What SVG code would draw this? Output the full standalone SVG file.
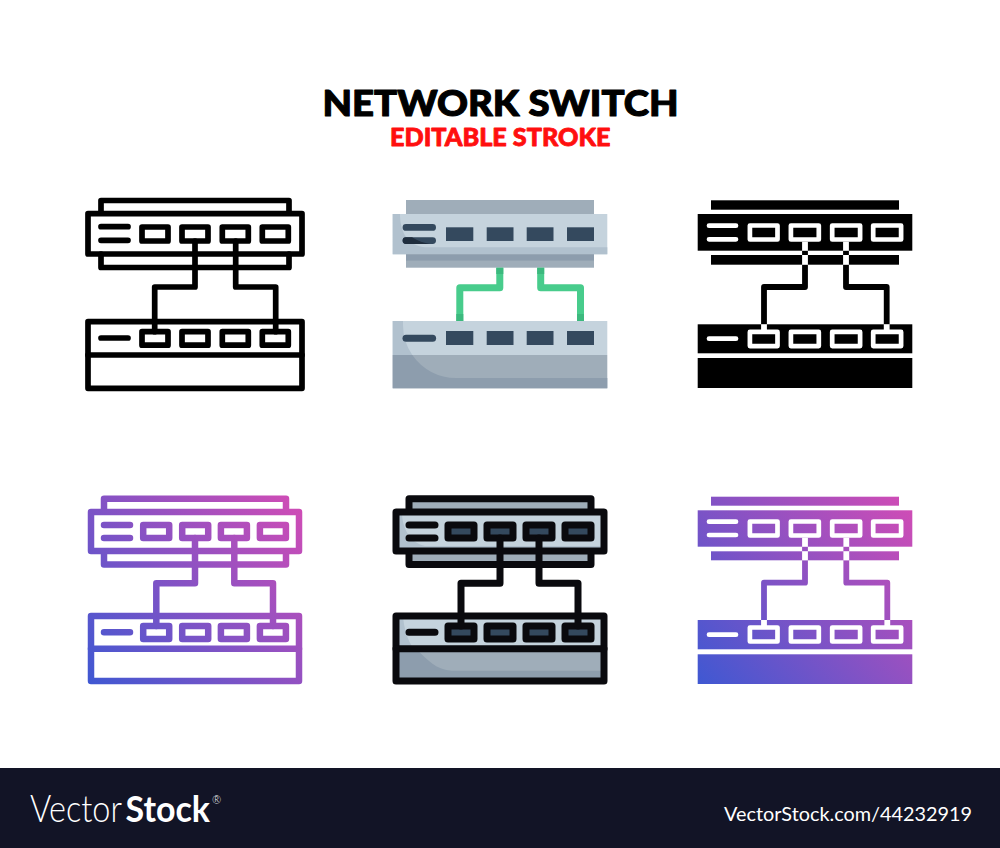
<svg xmlns="http://www.w3.org/2000/svg" width="1000" height="848" viewBox="0 0 1000 848">
<defs>
<linearGradient id="g4" gradientUnits="userSpaceOnUse" x1="88" y1="684" x2="302" y2="496"><stop offset="0" stop-color="#3f58d2"/><stop offset="1" stop-color="#d34cb5"/></linearGradient>
<linearGradient id="g6" gradientUnits="userSpaceOnUse" x1="698" y1="684" x2="912" y2="496"><stop offset="0" stop-color="#3f58d2"/><stop offset="1" stop-color="#d34cb5"/></linearGradient>
</defs>
<style>
.ln{fill:none;stroke-linejoin:round;stroke-linecap:round}
.k{stroke:#000;stroke-width:5.7}
.b{stroke:#0a0a0e;stroke-width:7}
.gr{stroke:url(#g4);stroke-width:6.5}
.w{fill:none;stroke:#fff;stroke-width:4.7;stroke-linejoin:round;stroke-linecap:round}
.dark{fill:#34495e}
.title{font-family:"Lato","Open Sans","Liberation Sans",sans-serif;font-weight:900;text-anchor:start;stroke-linejoin:round}
.foot{font-family:"Lato","Open Sans",sans-serif;fill:#fff}
</style>
<rect width="1000" height="848" fill="#fff"/>
<g id="title">
<text class="title" x="322.500" y="115.500" font-size="36.500" fill="#000" stroke="#000" stroke-width="1.100" textLength="356" lengthAdjust="spacingAndGlyphs">NETWORK SWITCH</text>
<text class="title" x="390" y="146.300" font-size="24.300" fill="#ff0f0f" stroke="#ff0f0f" stroke-width="0.800" textLength="220.500" lengthAdjust="spacingAndGlyphs">EDITABLE STROKE</text>
</g>

<g id="icon-outline" class="ln k">
<path d="M101 211V200.500H289V211M101 254V267.500H289V254"/>
<rect x="88" y="213.700" width="214" height="40.300"/>
<path d="M101 226.700H128M101 240.300H128"/>
<rect x="142" y="227" width="26" height="14"/><rect x="182" y="227" width="26" height="14"/><rect x="222.300" y="227" width="26" height="14"/><rect x="262.300" y="227" width="26" height="14"/>
<rect x="88" y="321.700" width="214" height="66.600"/>
<path d="M88 355H302M101 338H128"/>
<rect x="142" y="331.700" width="26" height="13.500"/><rect x="182" y="331.700" width="26" height="13.500"/><rect x="222.300" y="331.700" width="26" height="13.500"/><rect x="262.300" y="331.700" width="26" height="13.500"/>
</g>
<g id="icon-outline-links" class="ln k">
<path d="M195 241V287H154.700V331.700M235.700 241V287H275.700V331.700"/>
</g>

<g id="icon-flat">
<rect x="406" y="200" width="188" height="14" fill="#9fadb9"/>
<rect x="392.700" y="214" width="214.600" height="40.300" fill="#c5d3dd"/>
<path d="M392.700 214H400C400 235 410 247.300 428 247.300H607.300V254.300H392.700Z" fill="#b1c1ce"/>
<rect x="406" y="254.300" width="188" height="13.400" fill="#9fadb9"/>
<rect x="406" y="254.300" width="188" height="6.300" fill="#8d9dad"/>
<path d="M406 227.400H432.600M406 240.600H432.600" class="ln" stroke="#34495e" stroke-width="6.800"/>
<path d="M406 237.200H412C418 241 424 243 430 244H406A3.400 3.400 0 0 1 406 237.200Z" fill="#1f2d3d"/>
<g class="dark"><rect x="446" y="227.300" width="27.300" height="13.700"/><rect x="486.700" y="227.300" width="26.800" height="13.700"/><rect x="526.700" y="227.300" width="26.800" height="13.700"/><rect x="567" y="227.300" width="27" height="13.700"/></g>
<rect x="392.700" y="321" width="214.600" height="34" fill="#c5d3dd"/>
<path d="M392.700 321H403V325A53 53 0 0 0 412.300 355H392.700Z" fill="#b1c1ce"/>
<rect x="392.700" y="355" width="214.600" height="33.300" fill="#9fadb9"/>
<path d="M392.700 355H412.300A53 53 0 0 0 456 378H607.300V388.300H392.700Z" fill="#8d9dad"/>
<path d="M406 338.200H432.600" class="ln" stroke="#34495e" stroke-width="7"/>
<g class="dark"><rect x="446" y="331" width="27.300" height="14"/><rect x="486.700" y="331" width="26.800" height="14"/><rect x="526.700" y="331" width="26.800" height="14"/><rect x="567" y="331" width="27" height="14"/></g>
</g>
<g id="icon-flat-links" fill="none" stroke-width="7" stroke-linejoin="round">
<path d="M499.800 267.700V287.700H459.800V321M540.700 267.700V287.700H580.500V321" stroke="#48cc8c"/>
<path d="M499.800 267.700V274M540.700 267.700V274M459.800 314V321M580.500 314V321" stroke="#3cb97e"/>
</g>

<g id="icon-solid">
<rect x="711" y="200.300" width="188" height="9.400"/>
<rect x="697.700" y="214" width="214.600" height="36.700"/>
<rect x="711" y="255" width="188" height="9.700"/>
<path d="M709 225.700H736M709 239.300H736" class="w"/>
<g class="w"><rect x="749.900" y="225.500" width="27.600" height="14"/><rect x="790.900" y="225.500" width="27.900" height="14"/><rect x="832.200" y="225.500" width="27.900" height="14"/><rect x="873.200" y="225.500" width="27.900" height="14"/></g>
<rect x="697.700" y="324.300" width="214.600" height="29"/>
<rect x="697.700" y="358" width="214.600" height="30"/>
<path d="M709 338.700H736" class="w"/>
<g class="w"><rect x="749.900" y="331.900" width="27.600" height="14.200"/><rect x="790.900" y="331.900" width="27.900" height="14.200"/><rect x="832.200" y="331.900" width="27.900" height="14.200"/><rect x="873.200" y="331.900" width="27.900" height="14.200"/></g>
</g>
<g id="icon-solid-links" fill="none" stroke-linejoin="round">
<path d="M805 250.700V255M846 250.700V255M805 264.700V287H764V324.300M846 264.700V287H886.700V324.300" stroke="#000" stroke-width="5.800"/>
<path d="M805 241.700V250.700M846 241.700V250.700M805 255V264.700M846 255V264.700M764 324.300V330M886.700 324.300V330" stroke="#fff" stroke-width="5.800"/>
</g>

<g id="icon-gradient" class="ln gr">
<path d="M104 509V498.700H286V509M104 554V564.500H286V554"/>
<rect x="91" y="512" width="208" height="39"/>
<path d="M104 525H130M104 538H130"/>
<rect x="143.200" y="524.900" width="26" height="13"/><rect x="182.200" y="524.900" width="26" height="13"/><rect x="220.900" y="524.900" width="26" height="13"/><rect x="259.900" y="524.900" width="26" height="13"/>
<rect x="91" y="616" width="208" height="65"/>
<path d="M91 648.700H299M104 632.300H130"/>
<rect x="143.200" y="625.900" width="26" height="13"/><rect x="182.200" y="625.900" width="26" height="13"/><rect x="220.900" y="625.900" width="26" height="13"/><rect x="259.900" y="625.900" width="26" height="13"/>
</g>
<g id="icon-gradient-links" class="ln gr">
<path d="M195 538V583.300H156.300V625.900M234.300 538V583.300H273V625.900"/>
</g>

<g id="icon-filled">
<path d="M406 509V499H594V509ZM406 554V564H594V554Z" fill="#9fadb9"/>
<rect x="396" y="512" width="208" height="39" fill="#c5d3dd"/>
<path d="M396 512H402C402 528 410 543 425 546H604V551H396Z" fill="#b1c1ce"/>
<g fill="#34495e"><rect x="448" y="524.900" width="26" height="13"/><rect x="487" y="524.900" width="26" height="13"/><rect x="526" y="524.900" width="26" height="13"/><rect x="565" y="524.900" width="26" height="13"/></g>
<rect x="396" y="616" width="208" height="33" fill="#c5d3dd"/>
<path d="M396 616H403C404 628 407 640 414 649H396Z" fill="#b1c1ce"/>
<rect x="396" y="649" width="208" height="32" fill="#9fadb9"/>
<path d="M396 649H416C428 660 436 670 452 670.700H604V681H396Z" fill="#8d9dad"/>
<g fill="#34495e"><rect x="448" y="625.900" width="26" height="13"/><rect x="487" y="625.900" width="26" height="13"/><rect x="526" y="625.900" width="26" height="13"/><rect x="565" y="625.900" width="26" height="13"/></g>
<g class="ln b">
<path d="M409 509V498.700H591V509M409 554V564.500H591V554"/>
<rect x="396" y="512" width="208" height="39"/>
<path d="M409 525H435M409 538H435"/>
<rect x="448" y="524.900" width="26" height="13"/><rect x="487" y="524.900" width="26" height="13"/><rect x="526" y="524.900" width="26" height="13"/><rect x="565" y="524.900" width="26" height="13"/>
<rect x="396" y="616" width="208" height="65"/>
<path d="M396 648.700H604M409 632.300H435"/>
<rect x="448" y="625.900" width="26" height="13"/><rect x="487" y="625.900" width="26" height="13"/><rect x="526" y="625.900" width="26" height="13"/><rect x="565" y="625.900" width="26" height="13"/>
</g>
</g>
<g id="icon-filled-links" class="ln b">
<path d="M500 538V583.300H461V625.900M539 538V583.300H578V625.900"/>
</g>

<g id="icon-gradient-solid">
<g fill="url(#g6)">
<rect x="711" y="496.700" width="188" height="9"/>
<rect x="697.700" y="510.300" width="214.600" height="36.400"/>
<rect x="711" y="551.300" width="188" height="9"/>
<rect x="697.700" y="620" width="214.600" height="29.300"/>
<rect x="697.700" y="654.300" width="214.600" height="29.700"/>
</g>
<path d="M709 521.700H736M709 535H736M709 634.700H736" class="w"/>
<g class="w"><rect x="749.900" y="521.500" width="27.600" height="14"/><rect x="790.900" y="521.500" width="27.900" height="14"/><rect x="832.200" y="521.500" width="27.900" height="14"/><rect x="873.200" y="521.500" width="27.900" height="14"/>
<rect x="749.900" y="627.500" width="27.600" height="14"/><rect x="790.900" y="627.500" width="27.900" height="14"/><rect x="832.200" y="627.500" width="27.900" height="14"/><rect x="873.200" y="627.500" width="27.900" height="14"/></g>
</g>
<g id="icon-gradient-solid-links" fill="none" stroke-linejoin="round">
<path d="M805 546.700V551.300M846.300 546.700V551.300M805 560.300V582.700H764V620M846.300 560.300V582.700H887.300V620" stroke="url(#g6)" stroke-width="5.800"/>
<path d="M805 537.700V546.700M846.300 537.700V546.700M805 551.300V560.300M846.300 551.300V560.300M764 620V626M887.300 620V626" stroke="#fff" stroke-width="5.800"/>
</g>

<g id="footer">
<rect y="768" width="1000" height="80" fill="#121426"/>
<text class="foot" font-size="37" font-weight="300" transform="translate(30 822) scale(.85 1)" textLength="108.200" lengthAdjust="spacingAndGlyphs">Vector</text>
<text class="foot" font-size="37" font-weight="700" transform="translate(125.500 822) scale(.9 1)" textLength="93.900" lengthAdjust="spacingAndGlyphs">Stock</text>
<text class="foot" x="212" y="804" font-size="11" font-weight="300">®</text>
<text class="foot" x="724" y="821" font-size="20" textLength="248" lengthAdjust="spacingAndGlyphs">VectorStock.com/44232919</text>
</g>
</svg>
